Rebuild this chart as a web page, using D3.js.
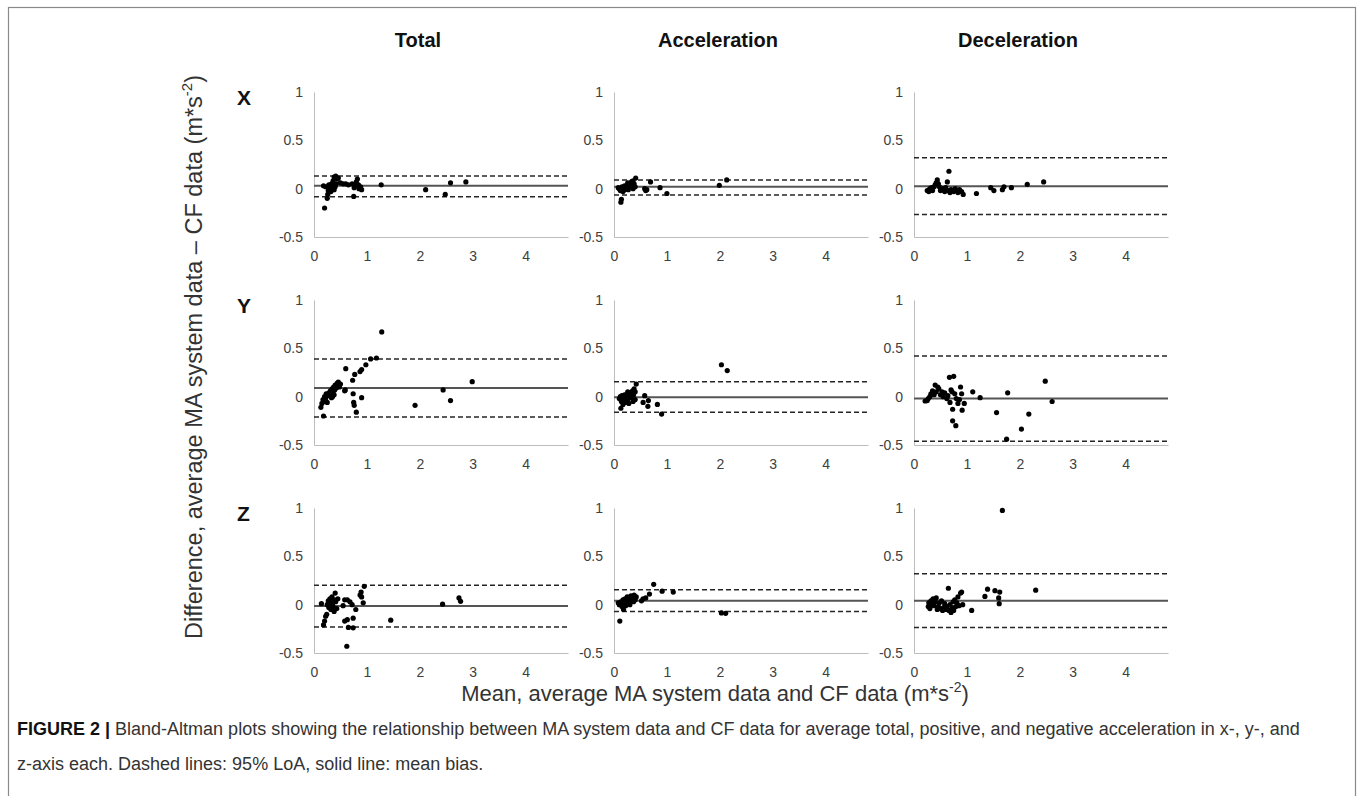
<!DOCTYPE html>
<meta charset="utf-8">
<head>
	<title>Bland-Altman plots</title>
	<script type="text/javascript" src="https://cdn.jsdelivr.net/npm/d3@7"></script>
	<style>
		body { margin: 0; background: #fff; }
		text { font-family: Arial, "Liberation Sans", sans-serif; }
	</style>
</head>
<body>
<div id="figure"></div>
<script>

	// panel layout
	const columns = ["Total", "Acceleration", "Deceleration"];
	const rows = ["X", "Y", "Z"];
	const xTicks = [0, 1, 2, 3, 4];
	const yTicks = [-0.5, 0, 0.5, 1];

	// mean bias and 95% limits of agreement, one array per axis row (Total, Acc, Dec)
	const biasX = [0.03, 0.02, 0.025];
	const upperX = [0.13, 0.09, 0.32];
	const lowerX = [-0.083, -0.066, -0.267];
	const biasY = [0.09, -0.005, -0.02];
	const upperY = [0.39, 0.155, 0.42];
	const lowerY = [-0.21, -0.16, -0.46];
	const biasZ = [-0.015, 0.04, 0.04];
	const upperZ = [0.20, 0.155, 0.32];
	const lowerZ = [-0.23, -0.07, -0.235];

	// points: [mean, difference]
	const totalX = [[0.20,-0.20],[0.25,-0.10],[0.26,-0.06],[0.22,0.02],[0.18,0.03],[0.28,0.04],[0.30,0.0],[0.32,-0.03],[0.27,-0.02],[0.33,0.05],[0.35,0.03],[0.36,0.08],[0.38,0.12],[0.41,0.13],[0.44,0.10],[0.46,0.11],[0.40,0.02],[0.42,0.05],[0.38,-0.01],[0.35,0.01],[0.50,0.06],[0.55,0.05],[0.60,0.05],[0.65,0.04],[0.72,0.05],[0.75,-0.08],[0.78,0.03],[0.80,0.07],[0.82,0.10],[0.85,0.0],[0.88,0.02],[0.84,0.04],[0.90,-0.01],[0.76,0.01],[1.27,0.04],[2.11,-0.01],[2.48,-0.06],[2.58,0.06],[2.87,0.07]];
	const accX = [[0.13,-0.14],[0.14,-0.11],[0.08,0.01],[0.10,0.0],[0.12,-0.02],[0.15,0.02],[0.17,-0.03],[0.18,0.01],[0.20,-0.01],[0.22,0.02],[0.24,0.0],[0.25,0.04],[0.27,-0.01],[0.28,0.03],[0.30,0.05],[0.32,0.02],[0.33,0.07],[0.35,0.03],[0.36,0.0],[0.38,0.05],[0.41,0.11],[0.36,0.08],[0.40,0.02],[0.20,0.03],[0.26,0.06],[0.58,0.0],[0.60,-0.02],[0.62,-0.01],[0.69,0.07],[0.87,0.01],[1.00,-0.05],[1.99,0.035],[2.13,0.09]];
	const decX = [[0.25,-0.02],[0.28,-0.03],[0.30,0.0],[0.33,0.01],[0.35,-0.02],[0.38,0.02],[0.40,0.04],[0.42,0.06],[0.44,0.09],[0.46,0.05],[0.48,0.02],[0.50,-0.02],[0.52,-0.01],[0.55,0.0],[0.58,-0.03],[0.60,0.01],[0.63,0.07],[0.66,0.18],[0.65,-0.02],[0.68,-0.04],[0.70,-0.01],[0.72,-0.02],[0.75,-0.03],[0.78,0.0],[0.80,-0.02],[0.83,-0.04],[0.86,-0.01],[0.90,-0.03],[0.93,-0.06],[1.18,-0.05],[1.45,0.01],[1.51,-0.02],[1.67,-0.01],[1.70,0.02],[1.84,0.01],[2.14,0.045],[2.45,0.07]];
	const totalY = [[0.13,-0.11],[0.15,-0.07],[0.18,-0.20],[0.17,-0.03],[0.19,-0.05],[0.20,0.0],[0.22,-0.02],[0.23,0.03],[0.25,-0.06],[0.26,0.01],[0.28,0.04],[0.30,0.02],[0.31,0.06],[0.33,-0.01],[0.34,0.08],[0.36,0.05],[0.37,0.10],[0.39,0.07],[0.40,0.12],[0.42,0.09],[0.44,0.14],[0.45,0.11],[0.46,0.15],[0.48,0.10],[0.50,0.13],[0.38,0.02],[0.35,0.0],[0.58,0.06],[0.60,0.29],[0.59,0.07],[0.73,0.17],[0.74,0.03],[0.75,-0.06],[0.76,-0.09],[0.77,0.23],[0.80,-0.16],[0.87,0.26],[0.90,0.28],[0.90,-0.01],[0.98,0.33],[1.07,0.39],[1.18,0.40],[1.28,0.67],[1.91,-0.09],[2.44,0.07],[2.58,-0.04],[2.99,0.155]];
	const accY = [[0.10,-0.02],[0.12,0.0],[0.13,-0.12],[0.14,-0.05],[0.15,0.01],[0.17,-0.08],[0.18,-0.03],[0.20,0.02],[0.21,-0.06],[0.22,0.0],[0.24,-0.04],[0.25,0.03],[0.27,-0.02],[0.28,-0.07],[0.30,0.01],[0.31,0.04],[0.33,-0.01],[0.35,0.06],[0.37,0.02],[0.38,0.08],[0.40,0.05],[0.42,0.13],[0.40,-0.03],[0.36,-0.05],[0.26,0.05],[0.55,-0.06],[0.58,0.01],[0.64,-0.10],[0.65,-0.04],[0.82,-0.08],[0.90,-0.18],[2.03,0.33],[2.14,0.27]];
	const decY = [[0.21,-0.045],[0.25,-0.04],[0.27,-0.02],[0.30,0.0],[0.32,0.03],[0.35,0.06],[0.38,0.02],[0.40,0.12],[0.42,0.05],[0.45,0.10],[0.47,0.08],[0.50,0.02],[0.53,0.05],[0.55,0.0],[0.58,0.04],[0.62,-0.02],[0.64,0.01],[0.67,0.20],[0.68,-0.06],[0.70,0.07],[0.72,0.05],[0.73,-0.13],[0.73,-0.25],[0.75,0.21],[0.77,0.03],[0.79,-0.30],[0.80,-0.02],[0.83,-0.07],[0.86,-0.03],[0.88,0.10],[0.90,0.03],[0.91,-0.14],[0.95,-0.07],[1.11,0.05],[1.25,-0.01],[1.56,-0.165],[1.75,-0.44],[1.77,0.04],[2.03,-0.335],[2.17,-0.18],[2.48,0.16],[2.61,-0.05]];
	const totalZ = [[0.14,0.01],[0.18,-0.21],[0.20,-0.17],[0.22,-0.12],[0.24,-0.10],[0.25,0.0],[0.27,0.04],[0.28,-0.03],[0.30,0.06],[0.31,0.02],[0.32,-0.05],[0.34,0.08],[0.35,0.0],[0.36,-0.02],[0.38,0.05],[0.38,-0.07],[0.40,0.12],[0.41,0.03],[0.43,-0.04],[0.45,0.06],[0.55,-0.01],[0.58,0.05],[0.58,-0.17],[0.62,-0.43],[0.63,0.05],[0.63,-0.155],[0.65,-0.235],[0.68,0.03],[0.72,0.0],[0.74,-0.14],[0.74,-0.24],[0.79,-0.05],[0.87,0.10],[0.89,0.13],[0.90,0.08],[0.93,0.02],[0.95,0.19],[1.45,-0.16],[2.43,0.005],[2.74,0.07],[2.77,0.035]];
	const accZ = [[0.08,0.02],[0.10,0.0],[0.11,-0.17],[0.13,0.03],[0.15,-0.02],[0.17,0.05],[0.18,-0.05],[0.19,0.01],[0.21,0.06],[0.22,-0.01],[0.24,0.04],[0.25,0.08],[0.27,0.02],[0.28,0.06],[0.30,0.0],[0.32,0.09],[0.33,0.04],[0.35,0.07],[0.37,0.03],[0.38,0.10],[0.40,0.05],[0.42,0.08],[0.52,0.04],[0.55,0.06],[0.60,0.07],[0.67,0.11],[0.75,0.21],[0.91,0.14],[1.12,0.13],[2.03,-0.085],[2.11,-0.09]];
	const decZ = [[0.27,-0.02],[0.28,0.02],[0.30,-0.04],[0.32,0.04],[0.34,0.0],[0.36,0.06],[0.38,-0.01],[0.40,0.03],[0.42,0.07],[0.44,-0.05],[0.46,-0.02],[0.48,0.02],[0.50,-0.04],[0.52,0.04],[0.54,-0.06],[0.56,-0.03],[0.58,0.01],[0.60,-0.05],[0.62,-0.02],[0.65,0.17],[0.66,-0.06],[0.68,0.0],[0.70,-0.08],[0.72,-0.03],[0.74,0.03],[0.75,-0.06],[0.77,0.05],[0.79,-0.02],[0.81,0.02],[0.83,0.08],[0.85,-0.01],[0.88,0.12],[0.90,0.13],[0.92,0.0],[1.09,-0.06],[1.34,0.085],[1.39,0.16],[1.53,0.145],[1.60,0.07],[1.61,0.01],[1.62,0.13],[1.67,0.975],[2.30,0.15]];

	const points = [[totalX, accX, decX], [totalY, accY, decY], [totalZ, accZ, decZ]];
	const bias = [biasX, biasY, biasZ];
	const upper = [upperX, upperY, upperZ];
	const lower = [lowerX, lowerY, lowerZ];

	const width = 1363;
	const height = 796;

	// geometry of the 3x3 grid
	const panelLeft = [314, 614, 914];
	const panelTop = [92, 300, 508];
	const panelW = 254;
	const panelH = 145;

	const svg = d3.select("#figure")
		.append("svg")
		.attr("width", width)
		.attr("height", height);

	// outer frame
	svg.append("rect")
		.attr("x", 8.5).attr("y", 7.5)
		.attr("width", 1347).attr("height", 800)
		.attr("fill", "none")
		.attr("stroke", "#8a8a8a")
		.attr("stroke-width", 1.2);

	const x = d3.scaleLinear().domain([0, 4.8]).range([0, panelW]);
	const y = d3.scaleLinear().domain([-0.5, 1]).range([panelH, 0]);

	// column titles
	svg.selectAll(".col-title")
		.data(columns)
		.enter().append("text")
		.attr("class", "col-title")
		.attr("x", (d, i) => panelLeft[i] + 104)
		.attr("y", 47)
		.attr("text-anchor", "middle")
		.attr("font-size", "20px")
		.attr("font-weight", "bold")
		.attr("fill", "#111")
		.text(d => d);

	rows.forEach(function (rowName, r) {
		svg.append("text")
			.attr("x", 237)
			.attr("y", panelTop[r] + 13)
			.attr("font-size", "21px")
			.attr("font-weight", "bold")
			.attr("fill", "#111")
			.text(rowName);

		columns.forEach(function (colName, c) {
			const g = svg.append("g")
				.attr("transform", `translate(${panelLeft[c]},${panelTop[r]})`);

			// y axis
			const yAxis = d3.axisLeft(y).tickValues(yTicks).tickSize(0).tickPadding(11)
				.tickFormat(d => d);
			g.append("g").call(yAxis)
				.call(s => s.select(".domain").attr("stroke", "#bdbdbd"))
				.call(s => s.selectAll("text").attr("font-size", "14px").attr("fill", "#404040")
					.attr("font-family", "Arial, 'Liberation Sans', sans-serif"));

			// x axis along the bottom
			const xAxis = d3.axisBottom(x).tickValues(xTicks).tickSize(0).tickPadding(14)
				.tickFormat(d => d);
			g.append("g")
				.attr("transform", `translate(0,${panelH})`)
				.call(xAxis)
				.call(s => s.select(".domain").attr("stroke", "#bdbdbd"))
				.call(s => s.selectAll("text").attr("font-size", "14px").attr("fill", "#404040")
					.attr("font-family", "Arial, 'Liberation Sans', sans-serif"));

			// limits of agreement
			[upper[r][c], lower[r][c]].forEach(function (v) {
				g.append("line")
					.attr("x1", x(0)).attr("x2", x(4.8))
					.attr("y1", y(v)).attr("y2", y(v))
					.attr("stroke", "#262626")
					.attr("stroke-width", 1.5)
					.attr("stroke-dasharray", "5,3");
			});

			// mean bias
			g.append("line")
				.attr("x1", x(0)).attr("x2", x(4.8))
				.attr("y1", y(bias[r][c])).attr("y2", y(bias[r][c]))
				.attr("stroke", "#555")
				.attr("stroke-width", 2);

			g.selectAll("circle")
				.data(points[r][c])
				.enter().append("circle")
				.attr("cx", d => x(d[0]))
				.attr("cy", d => y(d[1]))
				.attr("r", 2.6)
				.attr("fill", "#000");
		});
	});

	// y axis title
	const yTitle = svg.append("text")
		.attr("transform", "translate(202,357) rotate(-90)")
		.attr("text-anchor", "middle")
		.attr("font-size", "23.5px")
		.attr("fill", "#333");
	yTitle.append("tspan").text("Difference, average MA system data \u2013 CF data (m*s");
	yTitle.append("tspan").attr("font-size", "15px").attr("dy", -10).text("-2");
	yTitle.append("tspan").attr("dy", 10).text(")");

	// x axis title
	const xTitle = svg.append("text")
		.attr("x", 715)
		.attr("y", 701)
		.attr("text-anchor", "middle")
		.attr("font-size", "22px")
		.attr("fill", "#333");
	xTitle.append("tspan").text("Mean, average MA system data and CF data (m*s");
	xTitle.append("tspan").attr("font-size", "14px").attr("dy", -9).text("-2");
	xTitle.append("tspan").attr("dy", 9).text(")");

	// caption
	const cap1 = svg.append("text")
		.attr("x", 17).attr("y", 735)
		.attr("font-size", "18px")
		.attr("fill", "#333");
	cap1.append("tspan").attr("font-weight", "bold").attr("fill", "#111").text("FIGURE 2 | ");
	cap1.append("tspan").text("Bland-Altman plots showing the relationship between MA system data and CF data for average total, positive, and negative acceleration in x-, y-, and");

	svg.append("text")
		.attr("x", 17).attr("y", 770)
		.attr("font-size", "18px")
		.attr("fill", "#333")
		.text("z-axis each. Dashed lines: 95% LoA, solid line: mean bias.");

</script>
</body>
</html>
